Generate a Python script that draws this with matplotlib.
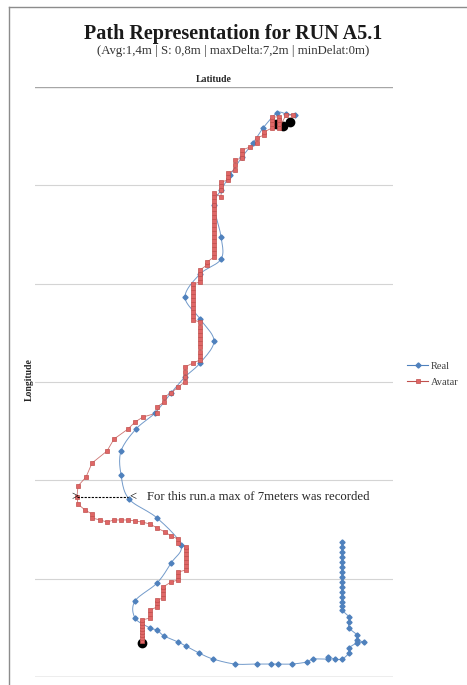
import numpy as np
import matplotlib
matplotlib.use("Agg")
import matplotlib.pyplot as plt
from matplotlib.lines import Line2D

# ---- Data (metric grid units) ----
real_x = [31.22, 31.22, 31.22, 31.22, 31.22, 31.22, 31.22, 31.22, 31.22, 31.22,
          31.22, 31.22, 31.22, 31.22, 31.22, 31.93, 31.93, 31.93, 32.75, 32.75,
          33.46, 32.75, 31.93, 31.93, 31.22, 30.51, 29.80, 29.80, 28.27, 27.66,
          26.14, 24.71, 24.00, 22.58, 20.34, 18.10, 16.68, 15.36, 14.54, 13.12,
          12.41, 11.70, 10.17, 10.17, 12.41, 13.83, 14.85, 12.41, 9.56, 8.75,
          8.75, 10.27, 12.20, 13.83, 15.25, 16.78, 18.20, 16.78, 15.25, 16.78,
          18.92, 18.92, 18.20, 18.92, 19.83, 21.05, 22.17, 23.19, 24.61, 25.53,
          26.44]
real_y = [13.73, 13.22, 12.71, 12.20, 11.70, 11.19, 10.68, 10.17, 9.66, 9.15,
          8.64, 8.14, 7.63, 7.22, 6.81, 6.10, 5.59, 4.98, 4.27, 3.76,
          3.56, 3.46, 2.95, 2.44, 1.83, 1.83, 2.03, 1.83, 1.83, 1.53,
          1.32, 1.32, 1.32, 1.32, 1.32, 1.83, 2.44, 3.15, 3.56, 4.17,
          4.78, 4.98, 6.00, 7.73, 9.56, 11.59, 13.42, 16.17, 18.10, 20.54,
          22.98, 25.22, 26.85, 28.88, 30.51, 31.93, 34.17, 36.41, 38.65, 40.98,
          42.51, 44.75, 48.00, 49.53, 51.05, 52.88, 54.31, 55.83, 57.36, 57.26,
          57.15]

avatar_x = [10.88, 10.88, 10.88, 10.88, 10.88, 10.88, 10.88, 10.88, 11.70, 11.70,
            11.70, 12.41, 12.41, 12.41, 13.02, 13.02, 13.02, 13.02, 13.83, 14.54,
            14.54, 14.54, 15.36, 15.36, 15.36, 15.36, 15.36, 15.36, 15.36, 14.54,
            14.54, 13.83, 13.22, 12.41, 11.70, 10.88, 10.17, 9.46, 8.75, 8.03,
            7.32, 6.61, 5.80, 5.80, 5.08, 4.37, 4.27, 4.37, 5.19, 5.80,
            7.32, 8.03, 9.46, 10.17, 10.98, 12.41, 12.41, 13.12, 13.12, 13.83,
            14.54, 15.25, 15.25, 15.25, 15.25, 16.07, 16.78, 16.78, 16.78, 16.78,
            16.78, 16.78, 16.78, 16.78, 16.78, 16.78, 16.07, 16.07, 16.07, 16.07,
            16.07, 16.07, 16.07, 16.07, 16.07, 16.07, 16.78, 16.78, 16.78, 16.78,
            17.49, 17.49, 18.20, 18.20, 18.20, 18.20, 18.20, 18.20, 18.20, 18.20,
            18.20, 18.20, 18.20, 18.20, 18.20, 18.20, 18.20, 18.20, 18.20, 18.92,
            18.92, 18.92, 18.92, 19.63, 19.63, 19.63, 20.34, 20.34, 20.34, 21.05,
            21.05, 21.05, 21.87, 22.58, 22.58, 23.29, 23.29, 24.10, 24.10, 24.10,
            24.10, 24.81, 24.81, 24.81, 24.81, 25.53, 26.24]
avatar_y = [3.66, 3.97, 4.27, 4.58, 4.88, 5.19, 5.49, 5.80, 6.00, 6.41,
            6.81, 7.12, 7.53, 7.83, 8.03, 8.44, 8.85, 9.15, 9.66, 9.86,
            10.27, 10.68, 10.88, 11.29, 11.70, 12.10, 12.51, 12.92, 13.22, 13.63,
            14.03, 14.34, 14.75, 15.15, 15.56, 15.76, 15.86, 15.97, 15.97, 15.97,
            15.76, 15.97, 16.17, 16.58, 16.98, 17.59, 18.31, 19.42, 20.34, 21.76,
            22.98, 24.20, 25.22, 25.93, 26.44, 26.85, 27.46, 27.97, 28.48, 28.88,
            29.49, 30.00, 30.51, 31.02, 31.53, 31.93, 32.24, 32.65, 33.05, 33.56,
            33.97, 34.37, 34.78, 35.19, 35.59, 36.10, 36.31, 36.71, 37.12, 37.53,
            37.93, 38.34, 38.75, 39.15, 39.56, 39.97, 40.17, 40.58, 40.98, 41.39,
            41.90, 42.20, 42.71, 43.12, 43.53, 43.93, 44.34, 44.75, 45.15, 45.56,
            45.97, 46.37, 46.78, 47.19, 47.60, 48.00, 48.41, 48.81, 49.22, 48.81,
            49.53, 49.93, 50.34, 50.54, 50.85, 51.26, 51.56, 52.07, 52.58, 52.78,
            53.19, 53.59, 53.90, 54.31, 54.82, 55.12, 55.43, 55.83, 56.24, 56.65,
            56.95, 56.95, 56.65, 56.24, 55.83, 57.15, 57.15]

# start / end markers
endpoint_x = [10.88, 24.51, 25.22, 25.93]
endpoint_y = [3.46, 56.24, 56.04, 56.44]

grid_y = [0, 10, 20, 30, 40, 50, 60]

# max deviation annotation
delta_x = [4.27, 9.46]
delta_y = 18.31

title = "Path Representation for RUN A5.1"
subtitle = "(Avg:1,4m | S: 0,8m | maxDelta:7,2m | minDelat:0m)"
note = "For this run.a max of 7meters was recorded"

BLUE = "#4F81BD"
RED = "#C0504D"
SERIF = ["Liberation Serif", "DejaVu Serif"]


def catmull_rom(xs, ys, n=12):
    """Smooth curve through the given points (uniform Catmull-Rom)."""
    p = np.column_stack([xs, ys]).astype(float)
    p = np.vstack([p[0], p, p[-1]])
    out = []
    t = np.linspace(0, 1, n, endpoint=False)
    for i in range(1, len(p) - 2):
        p0, p1, p2, p3 = p[i - 1], p[i], p[i + 1], p[i + 2]
        t2, t3 = t * t, t * t * t
        seg = 0.5 * ((2 * p1)[None, :]
                     + (-p0 + p2)[None, :] * t[:, None]
                     + (2 * p0 - 5 * p1 + 4 * p2 - p3)[None, :] * t2[:, None]
                     + (-p0 + 3 * p1 - 3 * p2 + p3)[None, :] * t3[:, None])
        out.append(seg)
    out.append(p[-2][None, :])
    out = np.vstack(out)
    return out[:, 0], out[:, 1]


fig = plt.figure(figsize=(4.67, 6.85), dpi=100)
ax = fig.add_axes([35 / 467, 1 - 677 / 685, 358 / 467, 590 / 685])
ax.set_xlim(0, 36.4)
ax.set_ylim(0, 60)
for s in ax.spines.values():
    s.set_visible(False)
ax.set_xticks([])
ax.set_yticks([])

for g in grid_y:
    edge = g in (grid_y[0], grid_y[-1])
    ax.axhline(g, color="#A6A6A6" if edge else "#D4D4D4", lw=1.0 if edge else 0.8, zorder=0)

# endpoints
ax.plot(endpoint_x, endpoint_y, "o", color="black", ms=6, zorder=2)

# real path (smoothed line)
sx, sy = catmull_rom(real_x, real_y)
ax.plot(sx, sy, "-", color=BLUE, lw=0.7, alpha=0.8, zorder=3)
ax.plot(real_x, real_y, "D", color=BLUE, ms=2.6, mec=BLUE, zorder=4)

# avatar path
ax.plot(avatar_x, avatar_y, "-", color=RED, lw=0.6, alpha=0.8, zorder=3)
ax.plot(avatar_x, avatar_y, "s", color="#E06666", ms=3.2, mec=RED, mew=0.5, zorder=5)

# maximum deviation marker
ax.plot(delta_x, [delta_y, delta_y], "--", color="black", lw=0.8, zorder=6, dashes=(2, 1.2))
ax.text(delta_x[0] - 0.2, delta_y, ">", ha="center", va="center", fontsize=9,
        family=SERIF, zorder=6)
ax.text(delta_x[1] + 0.5, delta_y, "<", ha="center", va="center", fontsize=9,
        family=SERIF, zorder=6)
ax.text(delta_x[1] + 1.95, delta_y, note, ha="left", va="center", fontsize=9.2,
        family=SERIF, color="#262626")

# titles
fig.text(0.5, 1 - 34 / 685, title, ha="center", va="center", fontsize=14.5,
         fontweight="bold", family=SERIF, color="#1a1a1a")
fig.text(0.5, 1 - 51 / 685, subtitle, ha="center", va="center", fontsize=9.2,
         family=SERIF, color="#333333")
fig.text(214 / 467, 1 - 80 / 685, "Latitude", ha="center", va="center", fontsize=7,
         fontweight="bold", family=SERIF, color="#262626")
fig.text(29 / 467, 1 - 380 / 685, "Longitude", ha="center", va="center", fontsize=7,
         fontweight="bold", family=SERIF, color="#262626", rotation=90)

# legend
handles = [
    Line2D([], [], color=BLUE, lw=0.8, marker="D", ms=2.6, mec=BLUE),
    Line2D([], [], color=RED, lw=0.8, marker="s", ms=3.0, mfc="#E06666", mec=RED, mew=0.5),
]
fig.legend(handles, ["Real", "Avatar"], loc="center left",
           bbox_to_anchor=(403 / 467, 1 - 374 / 685), frameon=False,
           prop={"family": SERIF, "size": 7.5}, labelcolor="#404040",
           handlelength=2.0, handletextpad=0.3, labelspacing=0.65,
           borderaxespad=0, borderpad=0.4)

# outer frame
fig.add_artist(Line2D([9 / 467, 9 / 467], [0, 1 - 7 / 685], transform=fig.transFigure,
                      color="#8C8C8C", lw=1.0))
fig.add_artist(Line2D([9 / 467, 1], [1 - 7 / 685, 1 - 7 / 685], transform=fig.transFigure,
                      color="#8C8C8C", lw=1.0))

fig.savefig("out.png", dpi=100)
